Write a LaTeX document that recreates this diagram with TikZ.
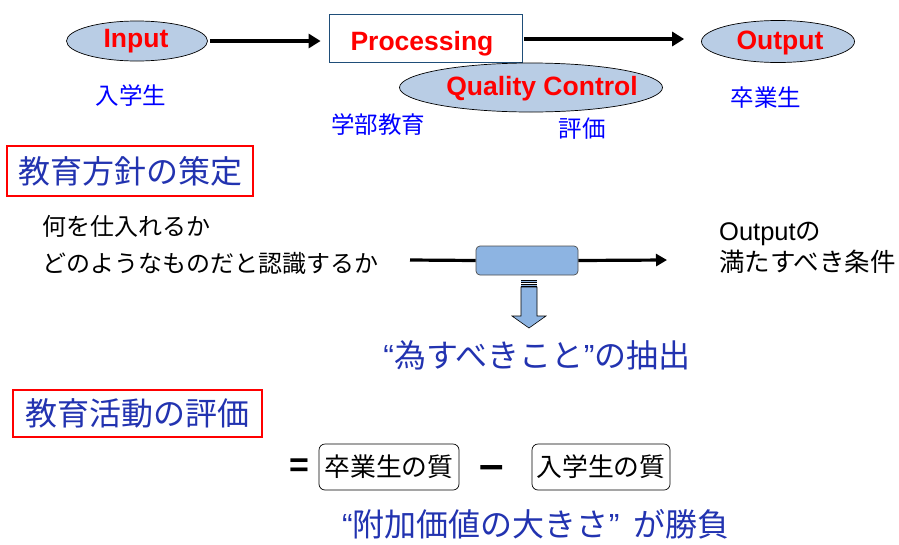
\documentclass[tikz,border=0pt]{standalone}
\usepackage{fontspec}
\setmainfont{Noto Sans CJK JP}
\newfontfamily\arial{Liberation Sans}
\usetikzlibrary{shapes.geometric,arrows.meta}
\definecolor{ellfill}{HTML}{B9CDE5}
\definecolor{boxfill}{HTML}{8DB4E2}
\definecolor{titleblue}{HTML}{2233B0}
\definecolor{procborder}{HTML}{1F4E79}
\begin{document}
\begin{tikzpicture}[x=1pt,y=-1pt,
  ell/.style={ellipse, draw=black, fill=ellfill, line width=0.7pt, inner sep=0pt},
  redlbl/.style={font=\arial\bfseries\fontsize{26.5}{30}\selectfont, text=red, inner sep=0pt},
  bluelbl/.style={font=\fontsize{23.5}{27}\selectfont, text=blue, inner sep=0pt},
  titlebox/.style={draw=red, line width=1.4pt, font=\fontsize{32}{36}\selectfont, text=titleblue, inner sep=0pt},
  bigtext/.style={font=\fontsize{32}{36}\selectfont, text=titleblue, inner sep=0pt},
  bigarrow/.style={line width=4.5pt, -{Triangle[length=12pt,width=14pt]}},
  midarrow/.style={line width=3.2pt, -{Triangle[length=11pt,width=12pt]}},
  qualbox/.style={draw=black, rounded corners=6pt, line width=0.7pt, minimum width=140pt, minimum height=46pt, inner sep=0pt, font=\fontsize{25.8}{30}\selectfont}
]
\useasboundingbox (0,0) rectangle (899,544);

% top row
\node[ell, minimum width=141pt, minimum height=40pt] (in) at (137,41) {};
\node[redlbl] (intext) at (136,41) {Input};
\node[draw=procborder, line width=0.8pt, minimum width=193pt, minimum height=48pt, inner sep=0pt] (proc) at (425.5,38) {};
\node[redlbl] (proctext) at (422,44) {Processing};
\node[ell, minimum width=153pt, minimum height=42pt] (out) at (778,41.5) {};
\node[redlbl] (outtext) at (780,43) {Output};
\node[ell, minimum width=263pt, minimum height=49pt] (qc) at (531,87.5) {};
\node[redlbl] (qctext) at (542,89) {Quality Control};

\draw[bigarrow, shorten <=2pt, shorten >=8pt] (in.east) -- (in.east -| proc.west);
\draw[bigarrow, shorten <=2pt, shorten >=17pt] (proc.east |- 0,39) coordinate (pe) -- (out.west |- 0,39);

\node[bluelbl] (nyu) at (131,96) {入学生};
\node[bluelbl] (gakubu) at (378,125) {学部教育};
\node[bluelbl] (hyoka) at (582,129) {評価};
\node[bluelbl] (sotsu) at (766,98) {卒業生};

% section 1
\node[titlebox, minimum width=246pt, minimum height=50pt] (t1) at (130,171) {教育方針の策定};
\node[anchor=west, align=left, inner sep=0pt, font=\fontsize{24}{37}\selectfont] (left) at (42,245) {何を仕入れるか\\どのようなものだと認識するか};
\node[anchor=west, align=left, inner sep=0pt, font=\fontsize{25.5}{31}\selectfont] (right) at (719,248) {{\arial Output}の\\満たすべき条件};

\coordinate (l1) at (410,260);
\coordinate (l2) at (667,260);
\node[draw=black!70, fill=boxfill, rounded corners=4pt, line width=0.7pt, minimum width=102pt, minimum height=29pt, inner sep=0pt] (mbox) at (527,260.5) {};
\draw[line width=3.2pt] (l1) -- (mbox.west);
\draw[midarrow] (mbox.east) -- (l2);

% striped block arrow
\fill[boxfill] (521,280) rectangle (537,282);
\draw[line width=0.6pt] (521,280) -- (537,280) (521,282) -- (537,282);
\fill[boxfill] (521,284) rectangle (537,286);
\draw[line width=0.6pt] (521,284) -- (537,284) (521,286) -- (537,286);
\draw[fill=boxfill, line width=0.6pt, line join=miter] (521,287) -- (537,287) -- (537,316) -- (546,316) -- (529,328) -- (512,316) -- (521,316) -- cycle;

\node[bigtext] (extract) at (537,355) {{\arial “}為すべきこと{\arial ”}の抽出};

% section 2
\node[titlebox, minimum width=249pt, minimum height=47pt] (t2) at (137.5,413.5) {教育活動の評価};

\node[inner sep=0pt, font=\arial\bfseries\fontsize{34}{38}\selectfont] (eq) at (299,468) {=};
\node[qualbox] (grad) at (389,467) {卒業生の質};
\node[inner sep=0pt, font=\arial\bfseries\fontsize{44}{48}\selectfont] (minus) at (492,472) {–};
\node[qualbox, minimum width=138pt] (ent) at (601,467) {入学生の質};

\node[bigtext] (value) at (536,524) {{\arial “}附加価値の大きさ{\arial ”}\ \ が勝負};
\end{tikzpicture}
\end{document}
